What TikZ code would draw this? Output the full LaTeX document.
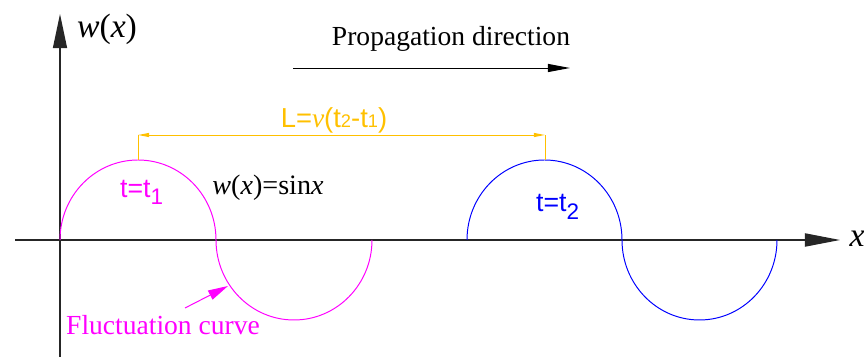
\documentclass[tikz,border=0pt]{standalone}
\usepackage{fontspec}
\setmainfont{Liberation Serif}
\newfontfamily\arialfont{Liberation Sans}
\usetikzlibrary{arrows.meta}
\definecolor{dimyellow}{RGB}{255,192,0}
\definecolor{wavemagenta}{RGB}{255,0,255}
\definecolor{waveblue}{RGB}{0,0,255}
\begin{document}
\begin{tikzpicture}[x=0.025cm, y=0.025cm,
  axis/.style={line width=0.9pt, black!85},
  wave/.style={line width=0.7pt},
  dimline/.style={line width=0.7pt, dimyellow},
  lbl/.style={inner sep=0pt}]

\def\W{864}  % picture width
\def\H{360}  % picture height
\def\yA{120} % x axis
\def\R{80}   % amplitude

\useasboundingbox (0,0) rectangle (\W,\H);

% axes
\coordinate (xstart) at (15,\yA);
\coordinate (xend)   at (840,\yA);
\coordinate (ystart) at (60,3);
\coordinate (yend)   at (60,346);
\draw[axis, -{Triangle[length=0.875cm, width=0.33cm]}] (xstart) -- (xend);
\draw[axis, -{Triangle[length=0.85cm, width=0.35cm]}] (ystart) -- (yend);
\node[lbl, font=\fontsize{24}{24}\selectfont] (xlabel) at (857,121) {\textit{x}};
\node[lbl, font=\fontsize{24}{24}\selectfont] (wlabel) at (107,331) {\textit{w}(\textit{x})};

% wave at t1
\draw[wave, wavemagenta] (60,\yA) arc[start angle=180, end angle=0, x radius=78, y radius=\R]
                         arc[start angle=180, end angle=360, x radius=78, y radius=\R];
% wave at t2
\draw[wave, waveblue] (467,\yA) arc[start angle=180, end angle=0, x radius=77.5, y radius=\R]
                      arc[start angle=180, end angle=360, x radius=77.5, y radius=\R];

% distance L
\coordinate (peakA) at (138,\yA+\R);
\coordinate (peakB) at (545,\yA+\R);
\coordinate (dimA) at (138,225);
\coordinate (dimB) at (545,225);
\draw[dimline] (peakA) -- (dimA);
\draw[dimline] (peakB) -- (dimB);
\draw[dimline, {Triangle[length=0.28cm, width=0.1cm]}-{Triangle[length=0.28cm, width=0.1cm]}] (dimA) -- (dimB);
\node[lbl, dimyellow, font=\arialfont\fontsize{19.5}{19.5}\selectfont] (Llabel) at (334,240)
  {L=\textit{\rmfamily v}(t{\fontsize{13}{13}\selectfont 2}-t{\fontsize{13}{13}\selectfont 1})};

% curve labels
\node[lbl, wavemagenta, font=\arialfont\fontsize{19}{19}\selectfont] (tone) at (142,168) {t=t\textsubscript{\fontsize{16}{16}\selectfont 1}};
\node[lbl, waveblue, font=\arialfont\fontsize{19}{19}\selectfont] (ttwo) at (558,153) {t=t\textsubscript{\fontsize{16}{16}\selectfont 2}};
\node[lbl, font=\fontsize{20}{20}\selectfont] (sinlabel) at (268,172) {\textit{w}(\textit{x})=sin\textit{x}};

% propagation direction
\node[lbl, font=\fontsize{19.6}{19.6}\selectfont] (proplabel) at (451,321) {Propagation direction};
\coordinate (propA) at (293,292);
\coordinate (propB) at (570,292);
\draw[line width=0.7pt, -{Triangle[length=0.55cm, width=0.2cm]}] (propA) -- (propB);

% fluctuation curve
\node[lbl, wavemagenta, font=\fontsize{19.6}{19.6}\selectfont] (fluct) at (163,35) {Fluctuation curve};
\coordinate (fluctA) at (185,52);
\coordinate (fluctB) at (228,74);
\draw[line width=0.7pt, wavemagenta, -{Triangle[length=0.5cm, width=0.25cm]}] (fluctA) -- (fluctB);
\end{tikzpicture}
\end{document}
